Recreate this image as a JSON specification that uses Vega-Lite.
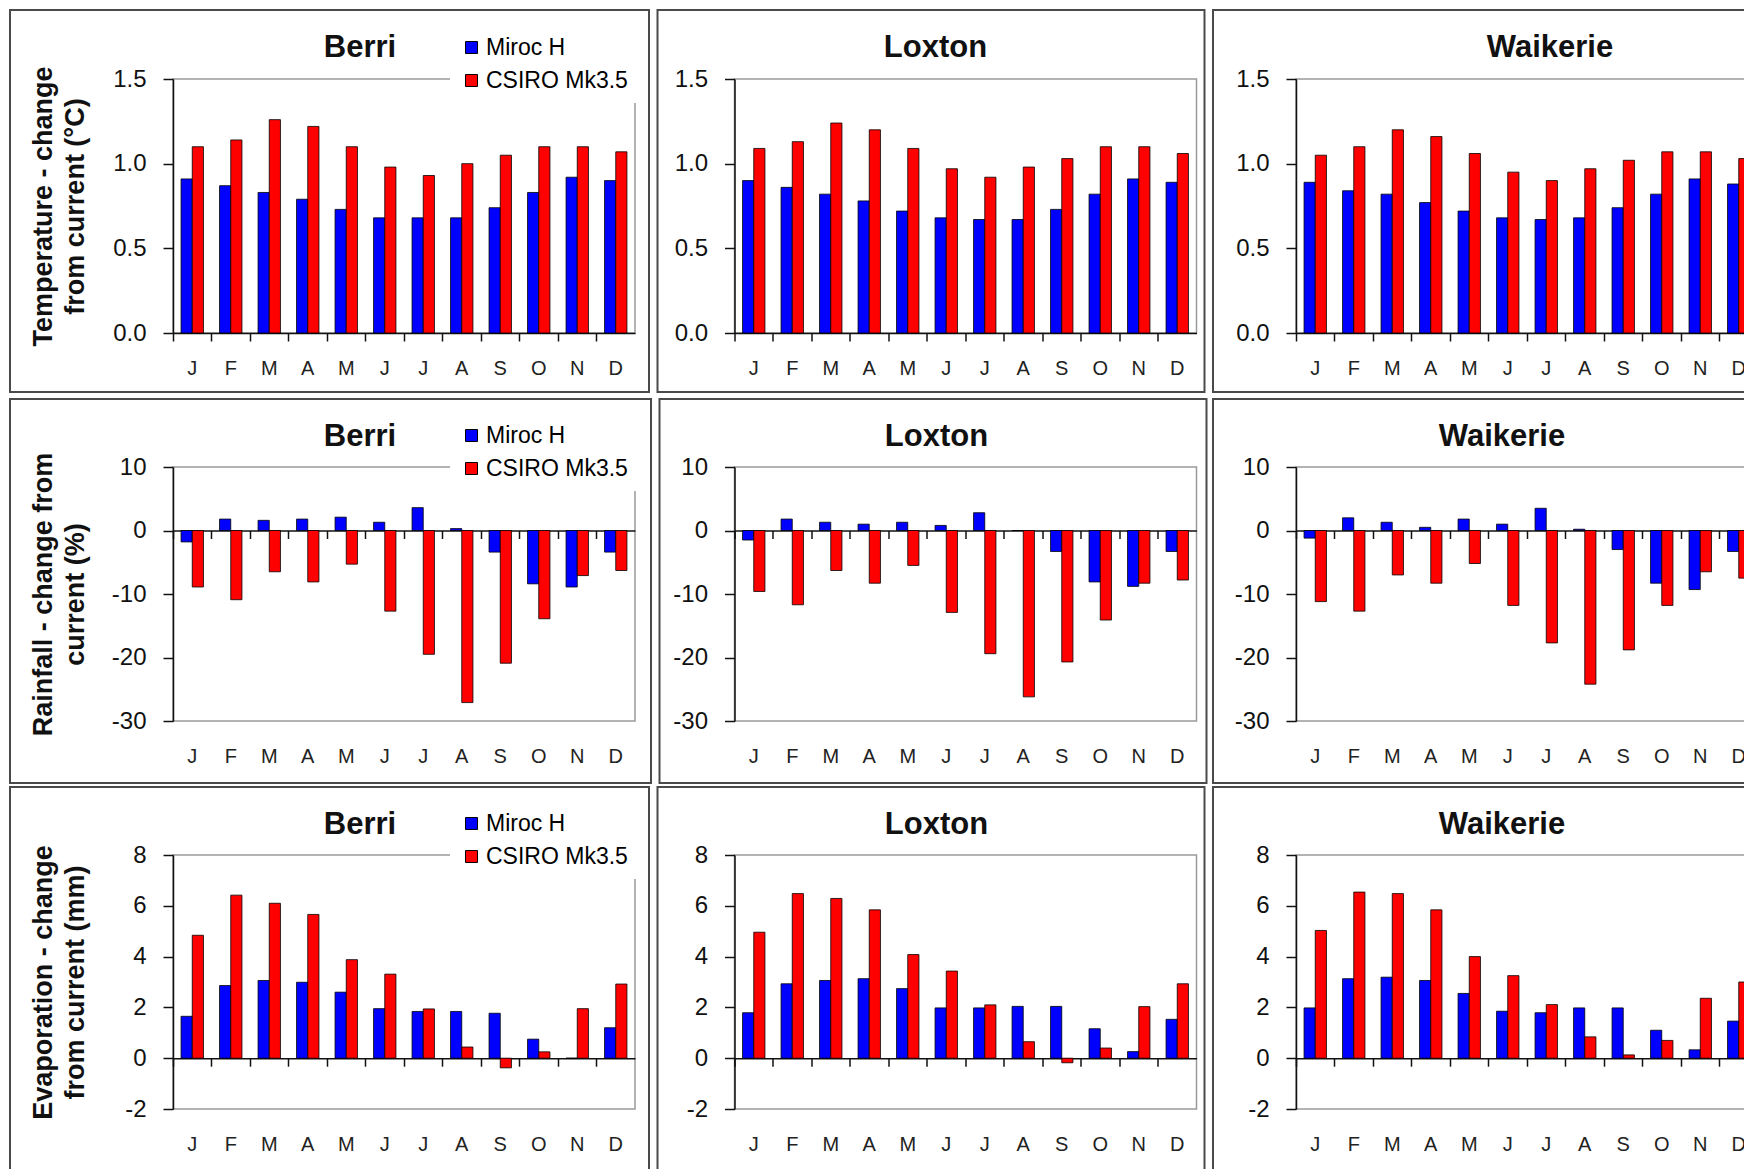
{
  "$schema": "https://vega.github.io/schema/vega-lite/v6.json",
  "background": "white",
  "padding": {"left": 8, "top": 8, "right": 0, "bottom": 0},
  "datasets": {
    "climate": [
      {"variable": "temp", "site": "Berri", "month": "Jan", "miroc": 0.91, "csiro": 1.10},
      {"variable": "temp", "site": "Berri", "month": "Feb", "miroc": 0.87, "csiro": 1.14},
      {"variable": "temp", "site": "Berri", "month": "Mar", "miroc": 0.83, "csiro": 1.26},
      {"variable": "temp", "site": "Berri", "month": "Apr", "miroc": 0.79, "csiro": 1.22},
      {"variable": "temp", "site": "Berri", "month": "May", "miroc": 0.73, "csiro": 1.10},
      {"variable": "temp", "site": "Berri", "month": "Jun", "miroc": 0.68, "csiro": 0.98},
      {"variable": "temp", "site": "Berri", "month": "Jul", "miroc": 0.68, "csiro": 0.93},
      {"variable": "temp", "site": "Berri", "month": "Aug", "miroc": 0.68, "csiro": 1.00},
      {"variable": "temp", "site": "Berri", "month": "Sep", "miroc": 0.74, "csiro": 1.05},
      {"variable": "temp", "site": "Berri", "month": "Oct", "miroc": 0.83, "csiro": 1.10},
      {"variable": "temp", "site": "Berri", "month": "Nov", "miroc": 0.92, "csiro": 1.10},
      {"variable": "temp", "site": "Berri", "month": "Dec", "miroc": 0.90, "csiro": 1.07},
      {"variable": "temp", "site": "Loxton", "month": "Jan", "miroc": 0.90, "csiro": 1.09},
      {"variable": "temp", "site": "Loxton", "month": "Feb", "miroc": 0.86, "csiro": 1.13},
      {"variable": "temp", "site": "Loxton", "month": "Mar", "miroc": 0.82, "csiro": 1.24},
      {"variable": "temp", "site": "Loxton", "month": "Apr", "miroc": 0.78, "csiro": 1.20},
      {"variable": "temp", "site": "Loxton", "month": "May", "miroc": 0.72, "csiro": 1.09},
      {"variable": "temp", "site": "Loxton", "month": "Jun", "miroc": 0.68, "csiro": 0.97},
      {"variable": "temp", "site": "Loxton", "month": "Jul", "miroc": 0.67, "csiro": 0.92},
      {"variable": "temp", "site": "Loxton", "month": "Aug", "miroc": 0.67, "csiro": 0.98},
      {"variable": "temp", "site": "Loxton", "month": "Sep", "miroc": 0.73, "csiro": 1.03},
      {"variable": "temp", "site": "Loxton", "month": "Oct", "miroc": 0.82, "csiro": 1.10},
      {"variable": "temp", "site": "Loxton", "month": "Nov", "miroc": 0.91, "csiro": 1.10},
      {"variable": "temp", "site": "Loxton", "month": "Dec", "miroc": 0.89, "csiro": 1.06},
      {"variable": "temp", "site": "Waikerie", "month": "Jan", "miroc": 0.89, "csiro": 1.05},
      {"variable": "temp", "site": "Waikerie", "month": "Feb", "miroc": 0.84, "csiro": 1.10},
      {"variable": "temp", "site": "Waikerie", "month": "Mar", "miroc": 0.82, "csiro": 1.20},
      {"variable": "temp", "site": "Waikerie", "month": "Apr", "miroc": 0.77, "csiro": 1.16},
      {"variable": "temp", "site": "Waikerie", "month": "May", "miroc": 0.72, "csiro": 1.06},
      {"variable": "temp", "site": "Waikerie", "month": "Jun", "miroc": 0.68, "csiro": 0.95},
      {"variable": "temp", "site": "Waikerie", "month": "Jul", "miroc": 0.67, "csiro": 0.90},
      {"variable": "temp", "site": "Waikerie", "month": "Aug", "miroc": 0.68, "csiro": 0.97},
      {"variable": "temp", "site": "Waikerie", "month": "Sep", "miroc": 0.74, "csiro": 1.02},
      {"variable": "temp", "site": "Waikerie", "month": "Oct", "miroc": 0.82, "csiro": 1.07},
      {"variable": "temp", "site": "Waikerie", "month": "Nov", "miroc": 0.91, "csiro": 1.07},
      {"variable": "temp", "site": "Waikerie", "month": "Dec", "miroc": 0.88, "csiro": 1.03},
      {"variable": "rain", "site": "Berri", "month": "Jan", "miroc": -1.8, "csiro": -8.9},
      {"variable": "rain", "site": "Berri", "month": "Feb", "miroc": 1.8, "csiro": -10.9},
      {"variable": "rain", "site": "Berri", "month": "Mar", "miroc": 1.6, "csiro": -6.5},
      {"variable": "rain", "site": "Berri", "month": "Apr", "miroc": 1.8, "csiro": -8.1},
      {"variable": "rain", "site": "Berri", "month": "May", "miroc": 2.1, "csiro": -5.3},
      {"variable": "rain", "site": "Berri", "month": "Jun", "miroc": 1.3, "csiro": -12.7},
      {"variable": "rain", "site": "Berri", "month": "Jul", "miroc": 3.6, "csiro": -19.5},
      {"variable": "rain", "site": "Berri", "month": "Aug", "miroc": 0.3, "csiro": -27.1},
      {"variable": "rain", "site": "Berri", "month": "Sep", "miroc": -3.4, "csiro": -20.9},
      {"variable": "rain", "site": "Berri", "month": "Oct", "miroc": -8.4, "csiro": -13.9},
      {"variable": "rain", "site": "Berri", "month": "Nov", "miroc": -8.9, "csiro": -7.1},
      {"variable": "rain", "site": "Berri", "month": "Dec", "miroc": -3.4, "csiro": -6.3},
      {"variable": "rain", "site": "Loxton", "month": "Jan", "miroc": -1.5, "csiro": -9.6},
      {"variable": "rain", "site": "Loxton", "month": "Feb", "miroc": 1.8, "csiro": -11.7},
      {"variable": "rain", "site": "Loxton", "month": "Mar", "miroc": 1.3, "csiro": -6.3},
      {"variable": "rain", "site": "Loxton", "month": "Apr", "miroc": 1.0, "csiro": -8.3},
      {"variable": "rain", "site": "Loxton", "month": "May", "miroc": 1.3, "csiro": -5.5},
      {"variable": "rain", "site": "Loxton", "month": "Jun", "miroc": 0.8, "csiro": -12.9},
      {"variable": "rain", "site": "Loxton", "month": "Jul", "miroc": 2.8, "csiro": -19.4},
      {"variable": "rain", "site": "Loxton", "month": "Aug", "miroc": 0.0, "csiro": -26.2},
      {"variable": "rain", "site": "Loxton", "month": "Sep", "miroc": -3.3, "csiro": -20.7},
      {"variable": "rain", "site": "Loxton", "month": "Oct", "miroc": -8.1, "csiro": -14.1},
      {"variable": "rain", "site": "Loxton", "month": "Nov", "miroc": -8.8, "csiro": -8.3},
      {"variable": "rain", "site": "Loxton", "month": "Dec", "miroc": -3.3, "csiro": -7.8},
      {"variable": "rain", "site": "Waikerie", "month": "Jan", "miroc": -1.2, "csiro": -11.2},
      {"variable": "rain", "site": "Waikerie", "month": "Feb", "miroc": 2.0, "csiro": -12.7},
      {"variable": "rain", "site": "Waikerie", "month": "Mar", "miroc": 1.3, "csiro": -7.0},
      {"variable": "rain", "site": "Waikerie", "month": "Apr", "miroc": 0.5, "csiro": -8.3},
      {"variable": "rain", "site": "Waikerie", "month": "May", "miroc": 1.8, "csiro": -5.2},
      {"variable": "rain", "site": "Waikerie", "month": "Jun", "miroc": 1.0, "csiro": -11.8},
      {"variable": "rain", "site": "Waikerie", "month": "Jul", "miroc": 3.5, "csiro": -17.7},
      {"variable": "rain", "site": "Waikerie", "month": "Aug", "miroc": 0.2, "csiro": -24.2},
      {"variable": "rain", "site": "Waikerie", "month": "Sep", "miroc": -3.0, "csiro": -18.8},
      {"variable": "rain", "site": "Waikerie", "month": "Oct", "miroc": -8.3, "csiro": -11.8},
      {"variable": "rain", "site": "Waikerie", "month": "Nov", "miroc": -9.3, "csiro": -6.5},
      {"variable": "rain", "site": "Waikerie", "month": "Dec", "miroc": -3.3, "csiro": -7.5},
      {"variable": "evap", "site": "Berri", "month": "Jan", "miroc": 1.65, "csiro": 4.84},
      {"variable": "evap", "site": "Berri", "month": "Feb", "miroc": 2.86, "csiro": 6.42},
      {"variable": "evap", "site": "Berri", "month": "Mar", "miroc": 3.06, "csiro": 6.10},
      {"variable": "evap", "site": "Berri", "month": "Apr", "miroc": 2.99, "csiro": 5.66},
      {"variable": "evap", "site": "Berri", "month": "May", "miroc": 2.60, "csiro": 3.88},
      {"variable": "evap", "site": "Berri", "month": "Jun", "miroc": 1.95, "csiro": 3.31},
      {"variable": "evap", "site": "Berri", "month": "Jul", "miroc": 1.84, "csiro": 1.94},
      {"variable": "evap", "site": "Berri", "month": "Aug", "miroc": 1.84, "csiro": 0.44},
      {"variable": "evap", "site": "Berri", "month": "Sep", "miroc": 1.77, "csiro": -0.38},
      {"variable": "evap", "site": "Berri", "month": "Oct", "miroc": 0.75, "csiro": 0.25},
      {"variable": "evap", "site": "Berri", "month": "Nov", "miroc": 0.0, "csiro": 1.95},
      {"variable": "evap", "site": "Berri", "month": "Dec", "miroc": 1.20, "csiro": 2.92},
      {"variable": "evap", "site": "Loxton", "month": "Jan", "miroc": 1.79, "csiro": 4.96},
      {"variable": "evap", "site": "Loxton", "month": "Feb", "miroc": 2.93, "csiro": 6.48},
      {"variable": "evap", "site": "Loxton", "month": "Mar", "miroc": 3.06, "csiro": 6.29},
      {"variable": "evap", "site": "Loxton", "month": "Apr", "miroc": 3.13, "csiro": 5.84},
      {"variable": "evap", "site": "Loxton", "month": "May", "miroc": 2.74, "csiro": 4.08},
      {"variable": "evap", "site": "Loxton", "month": "Jun", "miroc": 1.98, "csiro": 3.43},
      {"variable": "evap", "site": "Loxton", "month": "Jul", "miroc": 1.98, "csiro": 2.10},
      {"variable": "evap", "site": "Loxton", "month": "Aug", "miroc": 2.04, "csiro": 0.65},
      {"variable": "evap", "site": "Loxton", "month": "Sep", "miroc": 2.04, "csiro": -0.18},
      {"variable": "evap", "site": "Loxton", "month": "Oct", "miroc": 1.16, "csiro": 0.40},
      {"variable": "evap", "site": "Loxton", "month": "Nov", "miroc": 0.26, "csiro": 2.03},
      {"variable": "evap", "site": "Loxton", "month": "Dec", "miroc": 1.53, "csiro": 2.93},
      {"variable": "evap", "site": "Waikerie", "month": "Jan", "miroc": 1.98, "csiro": 5.03},
      {"variable": "evap", "site": "Waikerie", "month": "Feb", "miroc": 3.13, "csiro": 6.54},
      {"variable": "evap", "site": "Waikerie", "month": "Mar", "miroc": 3.19, "csiro": 6.48},
      {"variable": "evap", "site": "Waikerie", "month": "Apr", "miroc": 3.06, "csiro": 5.84},
      {"variable": "evap", "site": "Waikerie", "month": "May", "miroc": 2.55, "csiro": 4.00},
      {"variable": "evap", "site": "Waikerie", "month": "Jun", "miroc": 1.85, "csiro": 3.25},
      {"variable": "evap", "site": "Waikerie", "month": "Jul", "miroc": 1.79, "csiro": 2.11},
      {"variable": "evap", "site": "Waikerie", "month": "Aug", "miroc": 1.98, "csiro": 0.84},
      {"variable": "evap", "site": "Waikerie", "month": "Sep", "miroc": 1.98, "csiro": 0.13},
      {"variable": "evap", "site": "Waikerie", "month": "Oct", "miroc": 1.10, "csiro": 0.70},
      {"variable": "evap", "site": "Waikerie", "month": "Nov", "miroc": 0.33, "csiro": 2.36},
      {"variable": "evap", "site": "Waikerie", "month": "Dec", "miroc": 1.46, "csiro": 3.00}
    ]
  },
  "config": {
    "font": "Liberation Sans",
    "view": {"stroke": "#9a9a9a", "strokeWidth": 1.5},
    "axis": {"labelFont": "Liberation Sans", "titleFont": "Liberation Sans", "labelColor": "#111", "titleColor": "#111", "domainColor": "#111", "tickColor": "#111", "gridColor": "#1a1a1a", "gridWidth": 1.5, "domainWidth": 1.5, "tickWidth": 1.5},
    "axisY": {"labelFontSize": 24, "tickSize": 10, "labelPadding": 17, "grid": true, "titleFontSize": 27, "titleFontWeight": "bold", "titleAngle": -90, "titleX": -130, "titleY": 127, "titleAlign": "center", "titleBaseline": "middle", "titleLineHeight": 32},
    "axisX": {"labelFontSize": 20, "labelColor": "#222", "grid": false},
    "title": {"font": "Liberation Sans", "fontSize": 31, "fontWeight": "bold", "color": "#111", "anchor": "middle", "frame": "group", "baseline": "alphabetic", "offset": -55},
    "legend": {"orient": "none", "title": null, "direction": "vertical", "fillColor": "white", "padding": 10, "symbolType": "square", "symbolSize": 144, "symbolStrokeColor": "#000", "symbolStrokeWidth": 1, "labelFont": "Liberation Sans", "labelFontSize": 23, "labelColor": "#000", "labelOffset": 3, "rowPadding": 9}
  },
  "columns": 3,
  "bounds": "flush",
  "spacing": {"row": 134, "column": 99.5},
  "resolve": {"scale": {"x": "independent", "y": "independent", "color": "independent", "xOffset": "independent"}, "legend": {"color": "independent"}},
  "concat": [
    {
      "width": 462, "height": 254,
      "title": {"text": "Berri", "dx": -44},
      "resolve": {"scale": {"x": "independent", "y": "independent"}, "axis": {"x": "independent", "y": "independent"}},
      "layer": [
        {"data": {"values": [{"box": "panel"}]},
         "mark": {"type": "rect", "fill": "white", "fillOpacity": 0, "stroke": "#4a4a4a", "strokeWidth": 2},
         "encoding": {
           "x": {"datum": 0, "type": "quantitative", "scale": {"domain": [0, 1], "range": [-163, 476]}, "axis": null},
           "x2": {"datum": 1},
           "y": {"datum": 0, "type": "quantitative", "scale": {"domain": [0, 1], "range": [-69, 313]}, "axis": null},
           "y2": {"datum": 1}}},
        {"data": {"name": "climate"},
         "transform": [{"filter": "datum.variable == 'temp' && datum.site == 'Berri'"}, {"fold": ["miroc", "csiro"], "as": ["model", "value"]}],
         "resolve": {"axis": {"x": "independent"}},
         "layer": [
           {"mark": {"type": "bar", "stroke": "#000", "strokeWidth": 0.8},
            "encoding": {
              "x": {"field": "month", "type": "nominal", "sort": null, "scale": {"domain": ["Jan","Feb","Mar","Apr","May","Jun","Jul","Aug","Sep","Oct","Nov","Dec"], "paddingInner": 0, "paddingOuter": 0},
                    "axis": {"orient": "bottom", "domain": false, "ticks": false, "labelPadding": 25, "labelAngle": 0, "labelExpr": "substring(datum.value, 0, 1)", "title": null}},
              "xOffset": {"field": "model", "type": "nominal", "scale": {"domain": ["miroc", "csiro"], "paddingInner": 0, "paddingOuter": 0.72}},
              "y": {"field": "value", "type": "quantitative", "scale": {"domain": [0, 1.5], "nice": false, "zero": false},
                    "axis": {"values": [0, 0.5, 1, 1.5], "format": ".1f", "title": ["Temperature - change", "from current (°C)"], "gridOpacity": {"condition": {"test": "datum.value == 1.5 || datum.value == 0", "value": 0}, "value": 1}}},
              "color": {"field": "model", "type": "nominal", "scale": {"domain": ["miroc", "csiro"], "range": ["#0000FF", "#FF0000"]},
                        "legend": {"legendX": 277, "legendY": -53, "labelExpr": "datum.value == 'miroc' ? 'Miroc H' : 'CSIRO Mk3.5'"}}}},
           {"mark": {"type": "bar", "opacity": 0},
            "encoding": {
              "x": {"field": "month", "type": "nominal", "sort": null,
                    "axis": {"orient": "bottom", "offset": 0, "labels": false, "ticks": true, "tickSize": 8, "domain": true, "bandPosition": 0, "title": null}},
              "y": {"field": "value", "type": "quantitative", "stack": null}}}
         ]}
      ]
    },
    {
      "width": 462, "height": 254,
      "title": {"text": "Loxton", "dx": -30},
      "resolve": {"scale": {"x": "independent", "y": "independent"}, "axis": {"x": "independent", "y": "independent"}},
      "layer": [
        {"data": {"values": [{"box": "panel"}]},
         "mark": {"type": "rect", "fill": "white", "fillOpacity": 0, "stroke": "#4a4a4a", "strokeWidth": 2},
         "encoding": {
           "x": {"datum": 0, "type": "quantitative", "scale": {"domain": [0, 1], "range": [-77, 470]}, "axis": null},
           "x2": {"datum": 1},
           "y": {"datum": 0, "type": "quantitative", "scale": {"domain": [0, 1], "range": [-69, 313]}, "axis": null},
           "y2": {"datum": 1}}},
        {"data": {"name": "climate"},
         "transform": [{"filter": "datum.variable == 'temp' && datum.site == 'Loxton'"}, {"fold": ["miroc", "csiro"], "as": ["model", "value"]}],
         "resolve": {"axis": {"x": "independent"}},
         "layer": [
           {"mark": {"type": "bar", "stroke": "#000", "strokeWidth": 0.8},
            "encoding": {
              "x": {"field": "month", "type": "nominal", "sort": null, "scale": {"domain": ["Jan","Feb","Mar","Apr","May","Jun","Jul","Aug","Sep","Oct","Nov","Dec"], "paddingInner": 0, "paddingOuter": 0},
                    "axis": {"orient": "bottom", "domain": false, "ticks": false, "labelPadding": 25, "labelAngle": 0, "labelExpr": "substring(datum.value, 0, 1)", "title": null}},
              "xOffset": {"field": "model", "type": "nominal", "scale": {"domain": ["miroc", "csiro"], "paddingInner": 0, "paddingOuter": 0.72}},
              "y": {"field": "value", "type": "quantitative", "scale": {"domain": [0, 1.5], "nice": false, "zero": false},
                    "axis": {"values": [0, 0.5, 1, 1.5], "format": ".1f", "title": null, "gridOpacity": {"condition": {"test": "datum.value == 1.5 || datum.value == 0", "value": 0}, "value": 1}}},
              "color": {"field": "model", "type": "nominal", "scale": {"domain": ["miroc", "csiro"], "range": ["#0000FF", "#FF0000"]}, "legend": null}}},
           {"mark": {"type": "bar", "opacity": 0},
            "encoding": {
              "x": {"field": "month", "type": "nominal", "sort": null,
                    "axis": {"orient": "bottom", "offset": 0, "labels": false, "ticks": true, "tickSize": 8, "domain": true, "bandPosition": 0, "title": null}},
              "y": {"field": "value", "type": "quantitative", "stack": null}}}
         ]}
      ]
    },
    {
      "width": 462, "height": 254,
      "title": {"text": "Waikerie", "dx": 23},
      "resolve": {"scale": {"x": "independent", "y": "independent"}, "axis": {"x": "independent", "y": "independent"}},
      "layer": [
        {"data": {"values": [{"box": "panel"}]},
         "mark": {"type": "rect", "fill": "white", "fillOpacity": 0, "stroke": "#4a4a4a", "strokeWidth": 2},
         "encoding": {
           "x": {"datum": 0, "type": "quantitative", "scale": {"domain": [0, 1], "range": [-83, 560]}, "axis": null},
           "x2": {"datum": 1},
           "y": {"datum": 0, "type": "quantitative", "scale": {"domain": [0, 1], "range": [-69, 313]}, "axis": null},
           "y2": {"datum": 1}}},
        {"data": {"name": "climate"},
         "transform": [{"filter": "datum.variable == 'temp' && datum.site == 'Waikerie'"}, {"fold": ["miroc", "csiro"], "as": ["model", "value"]}],
         "resolve": {"axis": {"x": "independent"}},
         "layer": [
           {"mark": {"type": "bar", "stroke": "#000", "strokeWidth": 0.8},
            "encoding": {
              "x": {"field": "month", "type": "nominal", "sort": null, "scale": {"domain": ["Jan","Feb","Mar","Apr","May","Jun","Jul","Aug","Sep","Oct","Nov","Dec"], "paddingInner": 0, "paddingOuter": 0},
                    "axis": {"orient": "bottom", "domain": false, "ticks": false, "labelPadding": 25, "labelAngle": 0, "labelExpr": "substring(datum.value, 0, 1)", "title": null}},
              "xOffset": {"field": "model", "type": "nominal", "scale": {"domain": ["miroc", "csiro"], "paddingInner": 0, "paddingOuter": 0.72}},
              "y": {"field": "value", "type": "quantitative", "scale": {"domain": [0, 1.5], "nice": false, "zero": false},
                    "axis": {"values": [0, 0.5, 1, 1.5], "format": ".1f", "title": null, "gridOpacity": {"condition": {"test": "datum.value == 1.5 || datum.value == 0", "value": 0}, "value": 1}}},
              "color": {"field": "model", "type": "nominal", "scale": {"domain": ["miroc", "csiro"], "range": ["#0000FF", "#FF0000"]}, "legend": null}}},
           {"mark": {"type": "bar", "opacity": 0},
            "encoding": {
              "x": {"field": "month", "type": "nominal", "sort": null,
                    "axis": {"orient": "bottom", "offset": 0, "labels": false, "ticks": true, "tickSize": 8, "domain": true, "bandPosition": 0, "title": null}},
              "y": {"field": "value", "type": "quantitative", "stack": null}}}
         ]}
      ]
    },
    {
      "width": 462, "height": 254,
      "title": {"text": "Berri", "dx": -44},
      "resolve": {"scale": {"x": "independent", "y": "independent"}, "axis": {"x": "independent", "y": "independent"}},
      "layer": [
        {"data": {"values": [{"box": "panel"}]},
         "mark": {"type": "rect", "fill": "white", "fillOpacity": 0, "stroke": "#4a4a4a", "strokeWidth": 2},
         "encoding": {
           "x": {"datum": 0, "type": "quantitative", "scale": {"domain": [0, 1], "range": [-163, 478]}, "axis": null},
           "x2": {"datum": 1},
           "y": {"datum": 0, "type": "quantitative", "scale": {"domain": [0, 1], "range": [-68, 316]}, "axis": null},
           "y2": {"datum": 1}}},
        {"data": {"name": "climate"},
         "transform": [{"filter": "datum.variable == 'rain' && datum.site == 'Berri'"}, {"fold": ["miroc", "csiro"], "as": ["model", "value"]}],
         "resolve": {"axis": {"x": "independent"}},
         "layer": [
           {"mark": {"type": "bar", "stroke": "#000", "strokeWidth": 0.8},
            "encoding": {
              "x": {"field": "month", "type": "nominal", "sort": null, "scale": {"domain": ["Jan","Feb","Mar","Apr","May","Jun","Jul","Aug","Sep","Oct","Nov","Dec"], "paddingInner": 0, "paddingOuter": 0},
                    "axis": {"orient": "bottom", "domain": false, "ticks": false, "labelPadding": 25, "labelAngle": 0, "labelExpr": "substring(datum.value, 0, 1)", "title": null}},
              "xOffset": {"field": "model", "type": "nominal", "scale": {"domain": ["miroc", "csiro"], "paddingInner": 0, "paddingOuter": 0.72}},
              "y": {"field": "value", "type": "quantitative", "scale": {"domain": [-30, 10], "nice": false, "zero": false},
                    "axis": {"values": [-30, -20, -10, 0, 10], "labelExpr": "'' + datum.value", "title": ["Rainfall - change from", "current (%)"], "gridOpacity": {"condition": {"test": "datum.value == 10 || datum.value == -30", "value": 0}, "value": 1}}},
              "color": {"field": "model", "type": "nominal", "scale": {"domain": ["miroc", "csiro"], "range": ["#0000FF", "#FF0000"]},
                        "legend": {"legendX": 277, "legendY": -53, "labelExpr": "datum.value == 'miroc' ? 'Miroc H' : 'CSIRO Mk3.5'"}}}},
           {"mark": {"type": "bar", "opacity": 0},
            "encoding": {
              "x": {"field": "month", "type": "nominal", "sort": null,
                    "axis": {"orient": "bottom", "offset": -190.5, "labels": false, "ticks": true, "tickSize": 8, "domain": true, "bandPosition": 0, "title": null}},
              "y": {"field": "value", "type": "quantitative", "stack": null}}}
         ]}
      ]
    },
    {
      "width": 462, "height": 254,
      "title": {"text": "Loxton", "dx": -29},
      "resolve": {"scale": {"x": "independent", "y": "independent"}, "axis": {"x": "independent", "y": "independent"}},
      "layer": [
        {"data": {"values": [{"box": "panel"}]},
         "mark": {"type": "rect", "fill": "white", "fillOpacity": 0, "stroke": "#4a4a4a", "strokeWidth": 2},
         "encoding": {
           "x": {"datum": 0, "type": "quantitative", "scale": {"domain": [0, 1], "range": [-75, 472]}, "axis": null},
           "x2": {"datum": 1},
           "y": {"datum": 0, "type": "quantitative", "scale": {"domain": [0, 1], "range": [-68, 316]}, "axis": null},
           "y2": {"datum": 1}}},
        {"data": {"name": "climate"},
         "transform": [{"filter": "datum.variable == 'rain' && datum.site == 'Loxton'"}, {"fold": ["miroc", "csiro"], "as": ["model", "value"]}],
         "resolve": {"axis": {"x": "independent"}},
         "layer": [
           {"mark": {"type": "bar", "stroke": "#000", "strokeWidth": 0.8},
            "encoding": {
              "x": {"field": "month", "type": "nominal", "sort": null, "scale": {"domain": ["Jan","Feb","Mar","Apr","May","Jun","Jul","Aug","Sep","Oct","Nov","Dec"], "paddingInner": 0, "paddingOuter": 0},
                    "axis": {"orient": "bottom", "domain": false, "ticks": false, "labelPadding": 25, "labelAngle": 0, "labelExpr": "substring(datum.value, 0, 1)", "title": null}},
              "xOffset": {"field": "model", "type": "nominal", "scale": {"domain": ["miroc", "csiro"], "paddingInner": 0, "paddingOuter": 0.72}},
              "y": {"field": "value", "type": "quantitative", "scale": {"domain": [-30, 10], "nice": false, "zero": false},
                    "axis": {"values": [-30, -20, -10, 0, 10], "labelExpr": "'' + datum.value", "title": null, "gridOpacity": {"condition": {"test": "datum.value == 10 || datum.value == -30", "value": 0}, "value": 1}}},
              "color": {"field": "model", "type": "nominal", "scale": {"domain": ["miroc", "csiro"], "range": ["#0000FF", "#FF0000"]}, "legend": null}}},
           {"mark": {"type": "bar", "opacity": 0},
            "encoding": {
              "x": {"field": "month", "type": "nominal", "sort": null,
                    "axis": {"orient": "bottom", "offset": -190.5, "labels": false, "ticks": true, "tickSize": 8, "domain": true, "bandPosition": 0, "title": null}},
              "y": {"field": "value", "type": "quantitative", "stack": null}}}
         ]}
      ]
    },
    {
      "width": 462, "height": 254,
      "title": {"text": "Waikerie", "dx": -25},
      "resolve": {"scale": {"x": "independent", "y": "independent"}, "axis": {"x": "independent", "y": "independent"}},
      "layer": [
        {"data": {"values": [{"box": "panel"}]},
         "mark": {"type": "rect", "fill": "white", "fillOpacity": 0, "stroke": "#4a4a4a", "strokeWidth": 2},
         "encoding": {
           "x": {"datum": 0, "type": "quantitative", "scale": {"domain": [0, 1], "range": [-83, 560]}, "axis": null},
           "x2": {"datum": 1},
           "y": {"datum": 0, "type": "quantitative", "scale": {"domain": [0, 1], "range": [-68, 316]}, "axis": null},
           "y2": {"datum": 1}}},
        {"data": {"name": "climate"},
         "transform": [{"filter": "datum.variable == 'rain' && datum.site == 'Waikerie'"}, {"fold": ["miroc", "csiro"], "as": ["model", "value"]}],
         "resolve": {"axis": {"x": "independent"}},
         "layer": [
           {"mark": {"type": "bar", "stroke": "#000", "strokeWidth": 0.8},
            "encoding": {
              "x": {"field": "month", "type": "nominal", "sort": null, "scale": {"domain": ["Jan","Feb","Mar","Apr","May","Jun","Jul","Aug","Sep","Oct","Nov","Dec"], "paddingInner": 0, "paddingOuter": 0},
                    "axis": {"orient": "bottom", "domain": false, "ticks": false, "labelPadding": 25, "labelAngle": 0, "labelExpr": "substring(datum.value, 0, 1)", "title": null}},
              "xOffset": {"field": "model", "type": "nominal", "scale": {"domain": ["miroc", "csiro"], "paddingInner": 0, "paddingOuter": 0.72}},
              "y": {"field": "value", "type": "quantitative", "scale": {"domain": [-30, 10], "nice": false, "zero": false},
                    "axis": {"values": [-30, -20, -10, 0, 10], "labelExpr": "'' + datum.value", "title": null, "gridOpacity": {"condition": {"test": "datum.value == 10 || datum.value == -30", "value": 0}, "value": 1}}},
              "color": {"field": "model", "type": "nominal", "scale": {"domain": ["miroc", "csiro"], "range": ["#0000FF", "#FF0000"]}, "legend": null}}},
           {"mark": {"type": "bar", "opacity": 0},
            "encoding": {
              "x": {"field": "month", "type": "nominal", "sort": null,
                    "axis": {"orient": "bottom", "offset": -190.5, "labels": false, "ticks": true, "tickSize": 8, "domain": true, "bandPosition": 0, "title": null}},
              "y": {"field": "value", "type": "quantitative", "stack": null}}}
         ]}
      ]
    },
    {
      "width": 462, "height": 254,
      "title": {"text": "Berri", "dx": -44},
      "resolve": {"scale": {"x": "independent", "y": "independent"}, "axis": {"x": "independent", "y": "independent"}},
      "layer": [
        {"data": {"values": [{"box": "panel"}]},
         "mark": {"type": "rect", "fill": "white", "fillOpacity": 0, "stroke": "#4a4a4a", "strokeWidth": 2},
         "encoding": {
           "x": {"datum": 0, "type": "quantitative", "scale": {"domain": [0, 1], "range": [-163, 476]}, "axis": null},
           "x2": {"datum": 1},
           "y": {"datum": 0, "type": "quantitative", "scale": {"domain": [0, 1], "range": [-68, 330]}, "axis": null},
           "y2": {"datum": 1}}},
        {"data": {"name": "climate"},
         "transform": [{"filter": "datum.variable == 'evap' && datum.site == 'Berri'"}, {"fold": ["miroc", "csiro"], "as": ["model", "value"]}],
         "resolve": {"axis": {"x": "independent"}},
         "layer": [
           {"mark": {"type": "bar", "stroke": "#000", "strokeWidth": 0.8},
            "encoding": {
              "x": {"field": "month", "type": "nominal", "sort": null, "scale": {"domain": ["Jan","Feb","Mar","Apr","May","Jun","Jul","Aug","Sep","Oct","Nov","Dec"], "paddingInner": 0, "paddingOuter": 0},
                    "axis": {"orient": "bottom", "domain": false, "ticks": false, "labelPadding": 25, "labelAngle": 0, "labelExpr": "substring(datum.value, 0, 1)", "title": null}},
              "xOffset": {"field": "model", "type": "nominal", "scale": {"domain": ["miroc", "csiro"], "paddingInner": 0, "paddingOuter": 0.72}},
              "y": {"field": "value", "type": "quantitative", "scale": {"domain": [-2, 8], "nice": false, "zero": false},
                    "axis": {"values": [-2, 0, 2, 4, 6, 8], "labelExpr": "'' + datum.value", "title": ["Evaporation - change", "from current (mm)"], "gridOpacity": {"condition": {"test": "datum.value == 8 || datum.value == -2", "value": 0}, "value": 1}}},
              "color": {"field": "model", "type": "nominal", "scale": {"domain": ["miroc", "csiro"], "range": ["#0000FF", "#FF0000"]},
                        "legend": {"legendX": 277, "legendY": -53, "labelExpr": "datum.value == 'miroc' ? 'Miroc H' : 'CSIRO Mk3.5'"}}}},
           {"mark": {"type": "bar", "opacity": 0},
            "encoding": {
              "x": {"field": "month", "type": "nominal", "sort": null,
                    "axis": {"orient": "bottom", "offset": -50.8, "labels": false, "ticks": true, "tickSize": 8, "domain": true, "bandPosition": 0, "title": null}},
              "y": {"field": "value", "type": "quantitative", "stack": null}}}
         ]}
      ]
    },
    {
      "width": 462, "height": 254,
      "title": {"text": "Loxton", "dx": -29},
      "resolve": {"scale": {"x": "independent", "y": "independent"}, "axis": {"x": "independent", "y": "independent"}},
      "layer": [
        {"data": {"values": [{"box": "panel"}]},
         "mark": {"type": "rect", "fill": "white", "fillOpacity": 0, "stroke": "#4a4a4a", "strokeWidth": 2},
         "encoding": {
           "x": {"datum": 0, "type": "quantitative", "scale": {"domain": [0, 1], "range": [-77, 470]}, "axis": null},
           "x2": {"datum": 1},
           "y": {"datum": 0, "type": "quantitative", "scale": {"domain": [0, 1], "range": [-68, 330]}, "axis": null},
           "y2": {"datum": 1}}},
        {"data": {"name": "climate"},
         "transform": [{"filter": "datum.variable == 'evap' && datum.site == 'Loxton'"}, {"fold": ["miroc", "csiro"], "as": ["model", "value"]}],
         "resolve": {"axis": {"x": "independent"}},
         "layer": [
           {"mark": {"type": "bar", "stroke": "#000", "strokeWidth": 0.8},
            "encoding": {
              "x": {"field": "month", "type": "nominal", "sort": null, "scale": {"domain": ["Jan","Feb","Mar","Apr","May","Jun","Jul","Aug","Sep","Oct","Nov","Dec"], "paddingInner": 0, "paddingOuter": 0},
                    "axis": {"orient": "bottom", "domain": false, "ticks": false, "labelPadding": 25, "labelAngle": 0, "labelExpr": "substring(datum.value, 0, 1)", "title": null}},
              "xOffset": {"field": "model", "type": "nominal", "scale": {"domain": ["miroc", "csiro"], "paddingInner": 0, "paddingOuter": 0.72}},
              "y": {"field": "value", "type": "quantitative", "scale": {"domain": [-2, 8], "nice": false, "zero": false},
                    "axis": {"values": [-2, 0, 2, 4, 6, 8], "labelExpr": "'' + datum.value", "title": null, "gridOpacity": {"condition": {"test": "datum.value == 8 || datum.value == -2", "value": 0}, "value": 1}}},
              "color": {"field": "model", "type": "nominal", "scale": {"domain": ["miroc", "csiro"], "range": ["#0000FF", "#FF0000"]}, "legend": null}}},
           {"mark": {"type": "bar", "opacity": 0},
            "encoding": {
              "x": {"field": "month", "type": "nominal", "sort": null,
                    "axis": {"orient": "bottom", "offset": -50.8, "labels": false, "ticks": true, "tickSize": 8, "domain": true, "bandPosition": 0, "title": null}},
              "y": {"field": "value", "type": "quantitative", "stack": null}}}
         ]}
      ]
    },
    {
      "width": 462, "height": 254,
      "title": {"text": "Waikerie", "dx": -25},
      "resolve": {"scale": {"x": "independent", "y": "independent"}, "axis": {"x": "independent", "y": "independent"}},
      "layer": [
        {"data": {"values": [{"box": "panel"}]},
         "mark": {"type": "rect", "fill": "white", "fillOpacity": 0, "stroke": "#4a4a4a", "strokeWidth": 2},
         "encoding": {
           "x": {"datum": 0, "type": "quantitative", "scale": {"domain": [0, 1], "range": [-83, 560]}, "axis": null},
           "x2": {"datum": 1},
           "y": {"datum": 0, "type": "quantitative", "scale": {"domain": [0, 1], "range": [-68, 330]}, "axis": null},
           "y2": {"datum": 1}}},
        {"data": {"name": "climate"},
         "transform": [{"filter": "datum.variable == 'evap' && datum.site == 'Waikerie'"}, {"fold": ["miroc", "csiro"], "as": ["model", "value"]}],
         "resolve": {"axis": {"x": "independent"}},
         "layer": [
           {"mark": {"type": "bar", "stroke": "#000", "strokeWidth": 0.8},
            "encoding": {
              "x": {"field": "month", "type": "nominal", "sort": null, "scale": {"domain": ["Jan","Feb","Mar","Apr","May","Jun","Jul","Aug","Sep","Oct","Nov","Dec"], "paddingInner": 0, "paddingOuter": 0},
                    "axis": {"orient": "bottom", "domain": false, "ticks": false, "labelPadding": 25, "labelAngle": 0, "labelExpr": "substring(datum.value, 0, 1)", "title": null}},
              "xOffset": {"field": "model", "type": "nominal", "scale": {"domain": ["miroc", "csiro"], "paddingInner": 0, "paddingOuter": 0.72}},
              "y": {"field": "value", "type": "quantitative", "scale": {"domain": [-2, 8], "nice": false, "zero": false},
                    "axis": {"values": [-2, 0, 2, 4, 6, 8], "labelExpr": "'' + datum.value", "title": null, "gridOpacity": {"condition": {"test": "datum.value == 8 || datum.value == -2", "value": 0}, "value": 1}}},
              "color": {"field": "model", "type": "nominal", "scale": {"domain": ["miroc", "csiro"], "range": ["#0000FF", "#FF0000"]}, "legend": null}}},
           {"mark": {"type": "bar", "opacity": 0},
            "encoding": {
              "x": {"field": "month", "type": "nominal", "sort": null,
                    "axis": {"orient": "bottom", "offset": -50.8, "labels": false, "ticks": true, "tickSize": 8, "domain": true, "bandPosition": 0, "title": null}},
              "y": {"field": "value", "type": "quantitative", "stack": null}}}
         ]}
      ]
    }
  ]
}
